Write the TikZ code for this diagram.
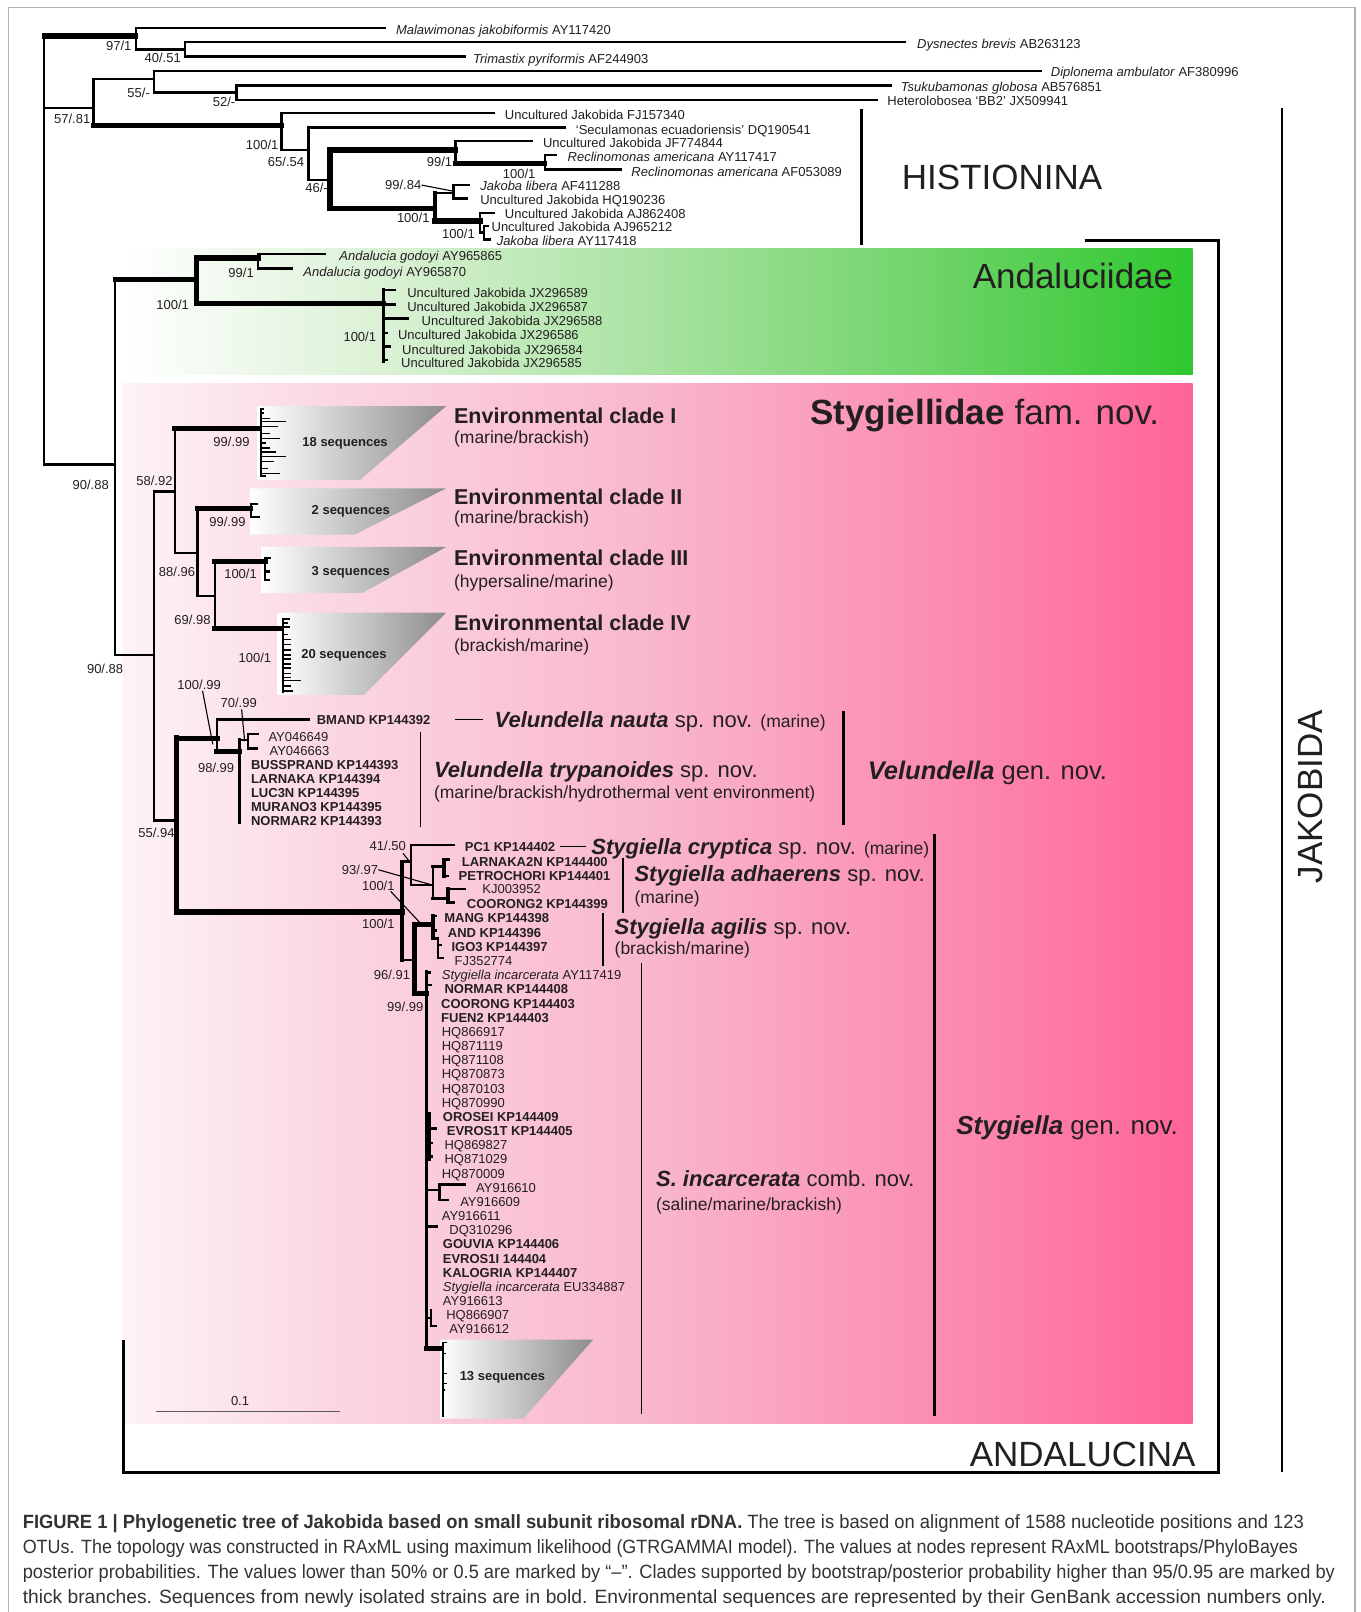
\documentclass[tikz,border=0pt]{standalone}
\usepackage{fontspec}
\usepackage{graphicx}
\setmainfont{Liberation Sans}
\usetikzlibrary{calc}
\definecolor{txt}{HTML}{231F20}
\definecolor{capc}{HTML}{333333}
\definecolor{gA}{HTML}{D9F1D4}
\definecolor{gB}{HTML}{A8E2A0}
\definecolor{gC}{HTML}{70D46A}
\definecolor{gD}{HTML}{2EC82E}
\definecolor{pZ}{HTML}{FDF3F6}
\definecolor{pA}{HTML}{FBD6E2}
\definecolor{pB}{HTML}{F9B6CB}
\definecolor{pC}{HTML}{FB8FB1}
\definecolor{pD}{HTML}{FF6496}
\definecolor{tgB}{HTML}{8C8C8C}
\pgfdeclarehorizontalshading{greengrad}{100bp}{color(0bp)=(white); color(25bp)=(white); color(37.5bp)=(gA); color(50bp)=(gB); color(62.5bp)=(gC); color(75bp)=(gD); color(100bp)=(gD)}
\pgfdeclarehorizontalshading{pinkgrad}{100bp}{color(0bp)=(pZ); color(25bp)=(pZ); color(35bp)=(pA); color(50bp)=(pB); color(62.5bp)=(pC); color(75bp)=(pD); color(100bp)=(pD)}
\pgfdeclarehorizontalshading{graygrad}{100bp}{color(0bp)=(white); color(25bp)=(white); color(75bp)=(tgB); color(100bp)=(tgB)}
\newcommand\myfs[1]{\fontsize{#1}{#1}\selectfont}
\newcommand\capline[2]{\resizebox{#1pt}{\height}{#2}}
\begin{document}
\begin{tikzpicture}[x=1.02797pt,y=-1.02797pt,
  br/.style={line width=2.4pt, line cap=rect},
  tk/.style={line width=5.2pt, line cap=rect},
  md/.style={line width=3.6pt, line cap=rect},
  fine/.style={line width=1.6pt},
  hair/.style={line width=1.1pt},
  T/.style 2 args={anchor=west, inner sep=0pt, text=txt, font=\myfs{#1}, text height=#2, text depth=0pt},
  L/.style={T={13}{9.3pt}},
  LB/.style={T={13}{9.3pt}, font=\myfs{13}\bfseries},
  S/.style={T={13}{9.3pt}, anchor=east},
  C/.style={T={19.2}{13.75pt}, text=capc}]
\useasboundingbox (0,0) rectangle (1323,1568);
\fill[white] (0,0) rectangle (1323,1568);
\draw[gray!60, line width=1.3pt] (8,1580) -- (8,7) -- (1318,7) -- (1318,1580);

% ---------- coloured boxes ----------
\shade[shading=greengrad] (120,242) rectangle (1160,364);
\shade[shading=pinkgrad] (120,373) rectangle (1160,1385);

% clade triangles
\shade[shading=graygrad] (250,395) -- (434,395) -- (350,467) -- (250,467) -- cycle;
\shade[shading=graygrad] (243,475) -- (434,475) -- (345,520) -- (243,520) -- cycle;
\shade[shading=graygrad] (254,532) -- (434,532) -- (352,577) -- (254,577) -- cycle;
\shade[shading=graygrad] (270,596) -- (434,596) -- (354,676) -- (270,676) -- cycle;
\shade[shading=graygrad] (428,1303) -- (577,1303) -- (509,1380) -- (428,1380) -- cycle;

% ---------- outgroups and Histionina ----------
\draw[tk] (43,35) -- (132,35);
\draw[br] (43,35) -- (43,452);
\draw[br] (132,27) -- (132,48) (132,27) -- (374,27) (132,48) -- (180,48)
  (180,41) -- (180,55) (180,41) -- (880,41) (180,55) -- (452,55);
\draw[br] (43,105) -- (91,105) (91,77) -- (91,122) (91,77) -- (150,77)
  (150,69) -- (150,90) (150,69) -- (1012,69) (150,90) -- (230,90)
  (230,83) -- (230,97) (230,83) -- (866,83) (230,97) -- (853,97);
\draw[tk] (91,122) -- (274,122);
\draw[br] (274,110) -- (274,146) (274,110) -- (480,110) (274,146) -- (300,146)
  (300,124) -- (300,175) (300,124) -- (549,124) (300,175) -- (321,175);
\draw[tk] (321,146) -- (321,203) (321,146) -- (443,146) (321,203) -- (423,203);
\draw[br] (443,137) -- (443,159) (443,137) -- (517,137);
\draw[tk] (443,159) -- (530,159);
\draw[br] (530,151) -- (530,165) (530,151) -- (541,151) (530,165) -- (604,165);
\draw[md] (423,188) -- (423,215);
\draw[br] (423,188) -- (441,188) (441,180) -- (441,193) (441,180) -- (456,180) (441,193) -- (454,193);
\draw[tk] (423,215) -- (467,215);
\draw[br] (467,207) -- (467,226) (467,207) -- (480,207) (467,226) -- (471,226)
  (471,220) -- (471,233) (471,220) -- (474,220) (471,233) -- (476,233);

\node[L] (malaw) at (385,29) {\textit{Malawimonas jakobiformis} AY117420};
\node[L] (dysn) at (892,43) {\textit{Dysnectes brevis} AB263123};
\node[L] (trim) at (460,57) {\textit{Trimastix pyriformis} AF244903};
\node[L] (dipl) at (1022,70) {\textit{Diplonema ambulator} AF380996};
\node[L] (tsuk) at (876,84) {\textit{Tsukubamonas globosa} AB576851};
\node[L] (hetero) at (863,98) {Heterolobosea ‘BB2’ JX509941};
\node[L] (fj) at (491,112) {Uncultured Jakobida FJ157340};
\node[L] (secu) at (560,126) {‘Seculamonas ecuadoriensis’ DQ190541};
\node[L] (jf) at (528,139) {Uncultured Jakobida JF774844};
\node[L] (recl1) at (552,153) {\textit{Reclinomonas americana} AY117417};
\node[L] (recl2) at (614,167) {\textit{Reclinomonas americana} AF053089};
\node[L] (jak1) at (467,181) {\textit{Jakoba libera} AF411288};
\node[L] (hq19) at (467,194) {Uncultured Jakobida HQ190236};
\node[L] (aj86) at (491,208) {Uncultured Jakobida AJ862408};
\node[L] (aj96) at (478,221) {Uncultured Jakobida AJ965212};
\node[L] (jak2) at (483,234) {\textit{Jakoba libera} AY117418};

\node[S] (b1) at (128,45) {97/1};
\node[S] (b2) at (176,56) {40/.51};
\node[S] (b3) at (146,90) {55/-};
\node[S] (b4) at (229,99) {52/-};
\node[S] (b5) at (88,116) {57/.81};
\node[S] (b6) at (271,141) {100/1};
\node[S] (b7) at (296,157) {65/.54};
\node[S] (b8) at (319,183) {46/-};
\node[S] (b9) at (440,157) {99/1};
\node[S] (b10) at (521,169) {100/1};
\node[S] (b11) at (410,180) {99/.84};
\draw[hair] (b11.east) -- (441,186);
\node[S] (b12) at (418,212) {100/1};
\node[S] (b13) at (462,227) {100/1};

\draw[line width=2.4pt] (838,106) -- (838,238);
\node[T={35}{25.06pt}] (hist) at (877,172) {HISTIONINA};

% ---------- Andalucina ----------
\draw[br] (43,452) -- (112,452) (112,272) -- (112,637);
\node[S] (b14) at (106,472) {90/.88};
\draw[tk] (112,272) -- (191,272) (191,251) -- (191,295) (191,251) -- (251,251) (191,295) -- (373,295);
\draw[br] (251,247) -- (251,261) (251,247) -- (316,247) (251,261) -- (284,261);
\draw[md] (373,282) -- (373,351);
\draw[br] (373,282) -- (384,282) (373,296) -- (384,296) (373,310) -- (397,310)
  (373,324) -- (376,324) (373,337) -- (379,337) (373,350) -- (376,350);
\node[L] (ag1) at (330,249) {\textit{Andalucia godoyi} AY965865};
\node[L] (ag2) at (295,264) {\textit{Andalucia godoyi} AY965870};
\node[L] (jx1) at (396,285) {Uncultured Jakobida JX296589};
\node[L] (jx2) at (396,298) {Uncultured Jakobida JX296587};
\node[L] (jx3) at (410,312) {Uncultured Jakobida JX296588};
\node[L] (jx4) at (387,326) {Uncultured Jakobida JX296586};
\node[L] (jx5) at (391,340) {Uncultured Jakobida JX296584};
\node[L] (jx6) at (390,353) {Uncultured Jakobida JX296585};
\node[S] (b15) at (247,265) {99/1};
\node[S] (b16) at (184,297) {100/1};
\node[S] (b17) at (366,328) {100/1};
\node[T={35}{25.06pt}] (anda) at (946,268) {Andaluciidae};

% ---------- Stygiellidae: environmental clades ----------
\draw[br] (112,637) -- (150,637) (150,478) -- (150,798) (150,478) -- (170,478) (170,417) -- (170,538)
  (170,538) -- (192,538) (192,495) -- (192,580) (192,580) -- (209,580) (209,546) -- (209,611);
\draw[tk] (170,417) -- (252,417) (192,495) -- (244,495) (209,546) -- (258,546) (209,611) -- (273,611);
\node[S] (b18) at (120,651) {90/.88};
\node[S] (b19) at (168,468) {58/.92};
\node[S] (b20) at (243,430) {99/.99};
\node[S] (b21) at (239,508) {99/.99};
\node[S] (b22) at (190,556) {88/.96};
\node[S] (b23) at (250,558) {100/1};
\node[S] (b24) at (205,603) {69/.98};
\node[S] (b25) at (264,640) {100/1};
% combs
\draw[fine] (254,397) -- (254,464);
\foreach \yy/\xx in {398/257,402/257,407/263,410/278,415/270,421.5/263,426.4/272,431/259,436/263,439.4/268.5,444.2/278,449/266.6,455.6/261,460.4/272.3,463/259}
  \draw[fine] (254,\yy) -- (\xx,\yy);
\draw[br] (244,490) -- (244,503) (244,490) -- (250,490) (244,503) -- (252,503);
\draw[br] (258,543) -- (258,564) (258,543) -- (262,543) (258,556) -- (261,556) (258,564) -- (261,564);
\draw[fine] (275,601) -- (275,674);
\foreach \yy/\xx in {602/282,606/280,610/282,617/280,622/283,627/283,632/283,637/283,641/283,646/283,650/283,655/283,659/283,662/293,667/283,672/285}
  \draw[fine] (275,\yy) -- (\xx,\yy);
\node[LB] (s18) at (294,430) {18 sequences};
\node[LB] (s2) at (303,496) {2 sequences};
\node[LB] (s3) at (303,555) {3 sequences};
\node[LB] (s20) at (293,636) {20 sequences};
\node[T={21.5}{15.4pt}, font=\myfs{21.5}\bfseries] (e1) at (441.5,404) {Environmental clade I};
\node[T={17.5}{12.53pt}] (e1s) at (441.5,425) {(marine/brackish)};
\node[T={21.5}{15.4pt}, font=\myfs{21.5}\bfseries] (e2) at (441.5,483) {Environmental clade II};
\node[T={17.5}{12.53pt}] (e2s) at (441.5,503) {(marine/brackish)};
\node[T={21.5}{15.4pt}, font=\myfs{21.5}\bfseries] (e3) at (441.5,543) {Environmental clade III};
\node[T={17.5}{12.53pt}] (e3s) at (441.5,565) {(hypersaline/marine)};
\node[T={21.5}{15.4pt}, font=\myfs{21.5}\bfseries] (e4) at (441.5,606) {Environmental clade IV};
\node[T={17.5}{12.53pt}] (e4s) at (441.5,628) {(brackish/marine)};
\node[T={35}{25.06pt}] (stygfam) at (788,401) {\textbf{Stygiellidae} fam. nov.};

% ---------- Velundella ----------
\draw[br] (150,798) -- (172,798);
\draw[tk] (172,717) -- (172,887) (172,718) -- (211,718);
\draw[br] (211,700) -- (211,731) (211,700) -- (300,700);
\draw[tk] (211,731) -- (233,731);
\draw[md] (233,720) -- (233,800);
\draw[br] (233,720) -- (241,720) (241,714) -- (241,728) (241,714) -- (251,714) (241,728) -- (250,728);
\node[LB] (bmand) at (308,700) {BMAND KP144392};
\node[L] (ay49) at (261,716.6) {AY046649};
\node[L] (ay63) at (262,730.5) {AY046663};
\node[LB] (buss) at (244,744) {BUSSPRAND KP144393};
\node[LB] (larn) at (244,758) {LARNAKA KP144394};
\node[LB] (luc) at (244,771.6) {LUC3N KP144395};
\node[LB] (mur) at (244,785) {MURANO3 KP144395};
\node[LB] (norm2) at (244,798.5) {NORMAR2 KP144393};
\node[S] (b26) at (215,666) {100/.99};
\draw[hair] (197,672) -- (207,724);
\node[S] (b27) at (250,684) {70/.99};
\draw[hair] (235,690) -- (238,721);
\node[S] (b28) at (228,747) {98/.99};
\node[S] (b29) at (170,810) {55/.94};
\draw[hair] (409,712) -- (409,804);
\node[T={22}{15.75pt}] (vnauta) at (481,700) {\textbf{\textit{Velundella nauta}} sp. nov. {\myfs{17.5}(marine)}};
\draw[hair] ($(bmand.east)+(24,0)$) -- ($(vnauta.west)+(-11,0)$);
\node[T={22}{15.75pt}] (vtryp) at (422,749) {\textbf{\textit{Velundella trypanoides}} sp. nov.};
\node[T={17.5}{12.53pt}] (vtryps) at (422,771) {(marine/brackish/hydrothermal vent environment)};
\draw[line width=3pt] (820,692) -- (820,802);
\node[T={25.5}{18.26pt}] (velg) at (844,749) {\textbf{\textit{Velundella}} gen. nov.};

% ---------- Stygiella ----------
\draw[tk] (172,887) -- (391,887);
\draw[md] (391,838) -- (391,934);
\draw[br] (391,838) -- (400,838) (400,822) -- (400,861) (400,822) -- (441,822) (400,861) -- (421,861) (421,843) -- (421,874);
\draw[md] (421,843) -- (432,843) (432,836) -- (432,852) (421,874) -- (436,874) (436,865) -- (436,878);
\draw[br] (432,836) -- (437,836) (432,852) -- (436,852) (436,865) -- (452,865) (436,878) -- (441,878);
\draw[br] (391,934) -- (403,934);
\draw[tk] (403,899) -- (403,966) (403,899) -- (421,899) (403,966) -- (415,966);
\draw[md] (421,891) -- (421,913);
\draw[br] (421,891) -- (424,891) (421,905) -- (424,905) (421,913) -- (426,913) (426,913) -- (426,932)
  (426,919) -- (429,919) (426,932) -- (431,932);
\draw[br] (415,945) -- (415,1312);
\draw[br] (415,946) -- (418,946) (415,958) -- (419,958) (415,1157.6) -- (427.5,1157.6)
  (427.5,1152) -- (427.5,1167) (427.5,1152) -- (452,1152) (427.5,1167) -- (436,1167)
  (415,1193) -- (425,1193) (415,1282) -- (419.3,1282) (419.3,1274) -- (419.3,1290) (419.3,1290) -- (424,1290);
\draw[md] (417.7,1083) -- (417.7,1128);
\draw[br] (417.7,1097.6) -- (423.5,1097.6) (417.7,1112) -- (420.3,1112) (417.7,1125) -- (420.3,1125);
\draw[tk] (415,1312) -- (429,1312);
\draw[fine] (431,1305) -- (431,1378);
\draw[fine] (431,1306) -- (435,1306) (431,1316.5) -- (434,1316.5) (431,1336) -- (434.5,1336) (431,1345.8) -- (434.5,1345.8) (431,1352.3) -- (433,1352.3);
\node[LB] (s13) at (447,1338) {13 sequences};

\node[LB] (pc1) at (452,823.6) {PC1 KP144402};
\node[LB] (l2n) at (449,838) {LARNAKA2N KP144400};
\node[LB] (petr) at (446,851.7) {PETROCHORI KP144401};
\node[L] (kj) at (469,865) {KJ003952};
\node[LB] (coo2) at (454,879) {COORONG2 KP144399};
\node[LB] (mang) at (432,893) {MANG KP144398};
\node[LB] (and) at (435.5,907) {AND KP144396};
\node[LB] (igo) at (439,921) {IGO3 KP144397};
\node[L] (fj35) at (442,934.5) {FJ352774};

\node[L] (i0) at (429.6,948.5) {\textit{Stygiella incarcerata} AY117419};
\node[LB] (i1) at (432.2,962.3) {NORMAR KP144408};
\node[LB] (i2) at (429,976.1) {COORONG KP144403};
\node[LB] (i3) at (429,989.8) {FUEN2 KP144403};
\node[L] (i4) at (429.6,1003.6) {HQ866917};
\node[L] (i5) at (429.6,1017.4) {HQ871119};
\node[L] (i6) at (429.6,1031.2) {HQ871108};
\node[L] (i7) at (429.6,1044.9) {HQ870873};
\node[L] (i8) at (429.6,1058.7) {HQ870103};
\node[L] (i9) at (429.6,1072.5) {HQ870990};
\node[LB] (i10) at (430.6,1086.3) {OROSEI KP144409};
\node[LB] (i11) at (434.5,1100.1) {EVROS1T KP144405};
\node[L] (i12) at (432.2,1113.8) {HQ869827};
\node[L] (i13) at (432.2,1127.6) {HQ871029};
\node[L] (i14) at (429.6,1141.4) {HQ870009};
\node[L] (i15) at (463,1155.2) {AY916610};
\node[L] (i16) at (447.5,1169) {AY916609};
\node[L] (i17) at (429.6,1182.7) {AY916611};
\node[L] (i18) at (437,1196.5) {DQ310296};
\node[LB] (i19) at (430.6,1210.3) {GOUVIA KP144406};
\node[LB] (i20) at (430.6,1224.1) {EVROS1I 144404};
\node[LB] (i21) at (430.6,1237.9) {KALOGRIA KP144407};
\node[L] (i22) at (430.6,1251.6) {\textit{Stygiella incarcerata} EU334887};
\node[L] (i23) at (430.6,1265.4) {AY916613};
\node[L] (i24) at (433.9,1279.2) {HQ866907};
\node[L] (i25) at (437,1293) {AY916612};

\node[S] (b30) at (395,823) {41/.50};
\draw[hair] (392,830) -- (399,839);
\node[S] (b31) at (368,846) {93/.97};
\draw[hair] (b31.east) -- (421,861);
\node[S] (b32) at (384,862) {100/1};
\draw[hair] (380,867) -- (408,897);
\node[S] (b33) at (384,899) {100/1};
\node[S] (b34) at (399,948) {96/.91};
\node[S] (b35) at (412,979) {99/.99};

\node[T={22}{15.75pt}] (cryp) at (575,823.6) {\textbf{\textit{Stygiella cryptica}} sp. nov. {\myfs{17.5}(marine)}};
\draw[hair] ($(pc1.east)+(4,0)$) -- ($(cryp.west)+(-5,0)$);
\draw[hair] (606,835) -- (606,888);
\node[T={22}{15.75pt}] (adh) at (617,849.5) {\textbf{\textit{Stygiella adhaerens}} sp. nov.};
\node[T={17.5}{12.53pt}] (adhs) at (617,872.6) {(marine)};
\draw[hair] (586.5,888) -- (586.5,940);
\node[T={22}{15.75pt}] (agi) at (597.7,901) {\textbf{\textit{Stygiella agilis}} sp. nov.};
\node[T={17.5}{12.53pt}] (agis) at (597.7,922.5) {(brackish/marine)};
\draw[hair] (623.6,937) -- (623.6,1375);
\node[T={22}{15.75pt}] (inc) at (638,1146) {\textbf{\textit{S. incarcerata}} comb. nov.};
\node[T={17.5}{12.53pt}] (incs) at (638,1171) {(saline/marine/brackish)};
\draw[line width=3pt] (909,811) -- (909,1377);
\node[T={26}{18.6pt}] (stygg) at (930,1094) {\textbf{\textit{Stygiella}} gen. nov.};

% scale bar
\draw[gray!70!black, line width=1pt] (152,1373) -- (331,1373);
\node[T={13}{9.3pt}, anchor=center] (sc) at (233.5,1362.5) {0.1};

% ---------- brackets ----------
\draw[line width=2.6pt] (1055,234) -- (1185,234) -- (1185,1432) -- (120,1432) -- (120,1303);
\node[T={35}{25.06pt}, anchor=east] (andal) at (1163,1414) {ANDALUCINA};
\draw[line width=2.4pt] (1247,105) -- (1247,1432);
\node[T={35}{25.06pt}, anchor=center, rotate=90] (jako) at (1274,775) {JAKOBIDA};

% ---------- caption ----------
\node[C] (cap1) at (22,1480) {\capline{1281}{\textbf{FIGURE 1 | Phylogenetic tree of Jakobida based on small subunit ribosomal rDNA.} The tree is based on alignment of 1588 nucleotide positions and 123}};
\node[C] (cap2) at (22,1504.5) {\capline{1275}{OTUs. The topology was constructed in RAxML using maximum likelihood (GTRGAMMAI model). The values at nodes represent RAxML bootstraps/PhyloBayes}};
\node[C] (cap3) at (22,1529) {\capline{1312}{posterior probabilities. The values lower than 50\% or 0.5 are marked by “–”. Clades supported by bootstrap/posterior probability higher than 95/0.95 are marked by}};
\node[C] (cap4) at (22,1553) {\capline{1303}{thick branches. Sequences from newly isolated strains are in bold. Environmental sequences are represented by their GenBank accession numbers only.}};
\end{tikzpicture}
\end{document}
